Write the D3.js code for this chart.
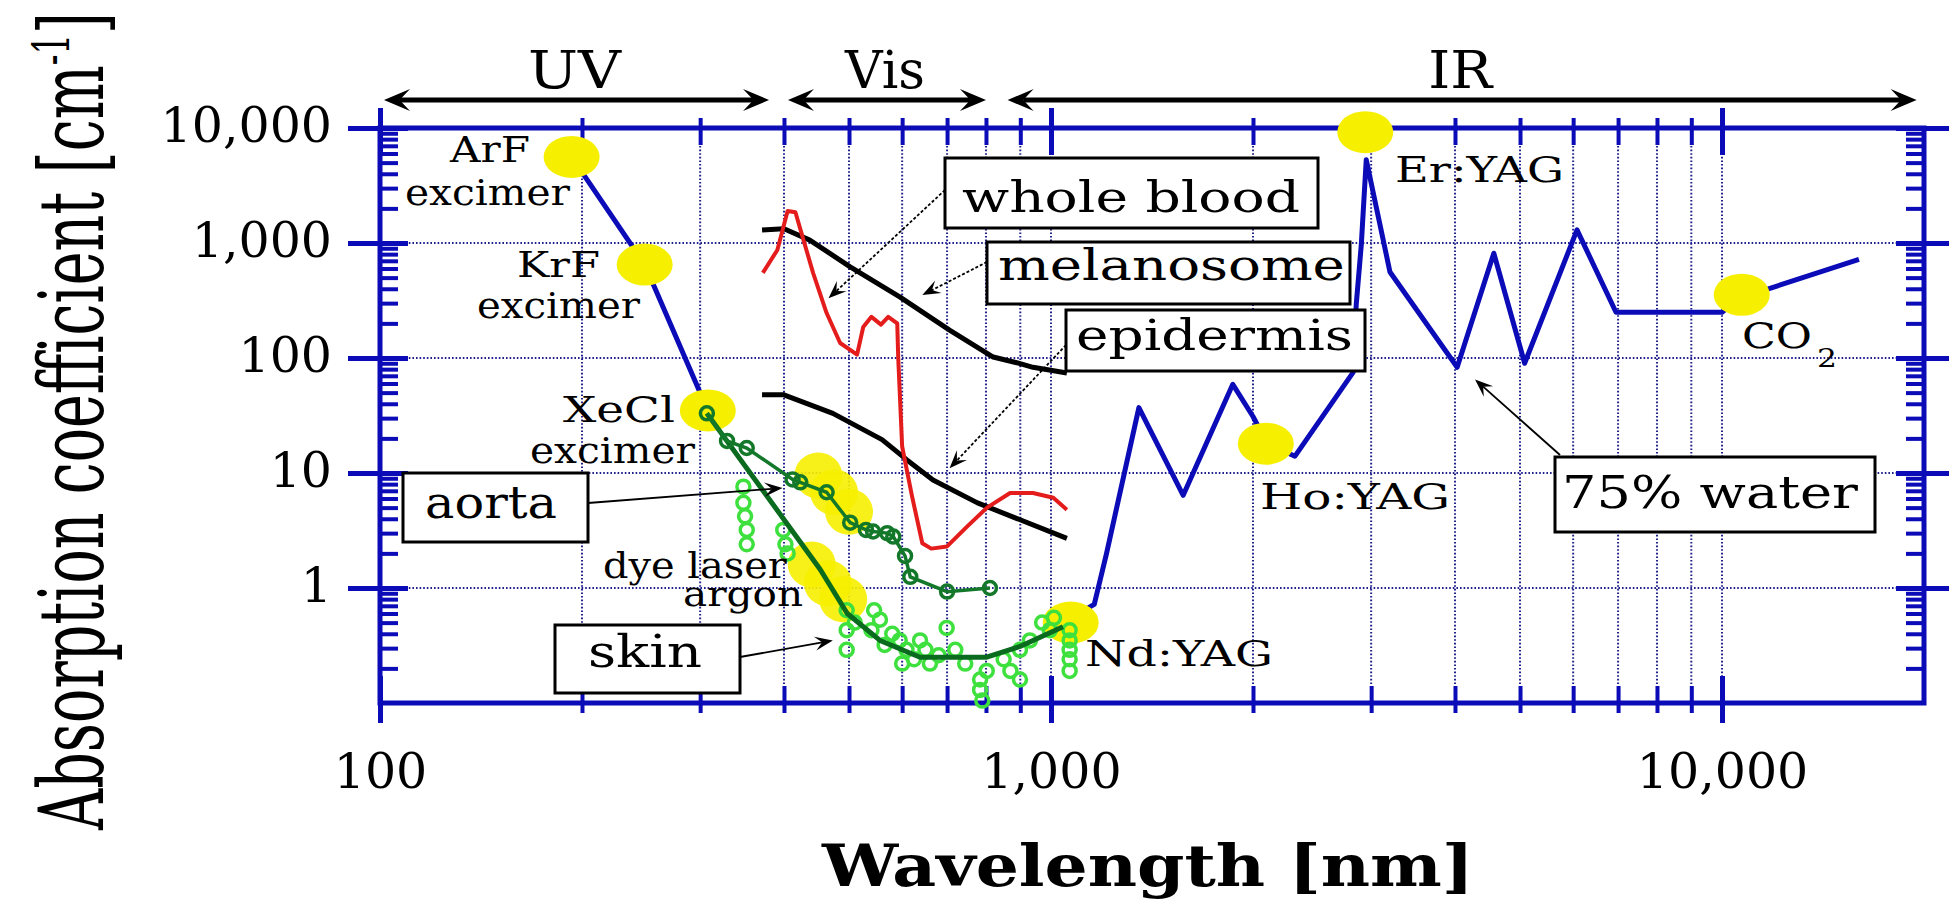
<!DOCTYPE html>
<html>
<head>
<meta charset="utf-8">
<script src="https://cdn.jsdelivr.net/npm/d3@7"></script>
<style>
  html, body { margin: 0; padding: 0; background: #fff; }
  svg { display: block; font-family: 'DejaVu Serif', 'Liberation Serif', serif; }
</style>
</head>
<body>
<div id="chart"></div>
<script>
// ---- data (wavelength nm, absorption coefficient cm^-1) ----
const bands = [
  { name: 'UV', from: 100, to: 380 },
  { name: 'Vis', from: 400, to: 800 },
  { name: 'IR', from: 850, to: 19500 }
];

const xMajor = [100, 1000, 10000];
const xMinor = [200, 300, 400, 500, 600, 700, 800, 900, 2000, 3000, 4000, 5000, 6000, 7000, 8000, 9000];
const yMajor = [1, 10, 100, 1000, 10000];
const yMinor = [0.1, 1, 10, 100, 1000].flatMap(d => [2, 3, 4, 5, 6, 7, 8, 9].map(k => d * k));
const xGrid = [200, 300, 400, 500, 600, 700, 800, 900, 1000, 2000, 3000, 4000, 5000, 6000, 7000, 8000, 9000, 10000];
const yGrid = [1, 10, 100, 1000];

const waterUV = [[193, 5600], [248, 650], [308, 35]];
const waterIR = [[1070, 0.55], [1160, 0.72], [1210, 2.0], [1352, 37], [1574, 6.4], [1866, 59],
  [2000, 31], [2100, 18], [2310, 14], [2820, 75], [2850, 290], [2900, 960], [2950, 5300],
  [3200, 560], [4030, 83], [4570, 815], [5080, 90], [6080, 1300], [6950, 250], [10000, 250],
  [10600, 330], [16000, 720]];

const wholeBlood = [[372, 550], [391, 870], [405, 1900], [416, 1850], [442, 550], [463, 246],
  [485, 135], [514, 107], [525, 186], [540, 228], [558, 195], [572, 228], [590, 200], [592, 100],
  [600, 17], [621, 6.2], [643, 2.45], [663, 2.2], [700, 2.3], [749, 3.4], [803, 5.0],
  [869, 6.7], [940, 6.7], [1008, 6.1], [1056, 4.8]];

const melanosome = [[371, 1300], [400, 1330], [437, 1060], [502, 620], [595, 340], [706, 175],
  [820, 102], [889, 91], [940, 83], [1056, 74]];

const epidermis = [[371, 48], [399, 48], [473, 33], [560, 19.5], [610, 13], [667, 8.7],
  [777, 5.5], [1056, 2.7]];

const aorta = [[307, 33], [329, 19], [352, 16.5], [412, 8.8], [423, 8.3], [463, 6.8], [502, 3.7],
  [530, 3.2], [543, 3.1], [570, 3.0], [582, 2.8], [606, 1.9], [617, 1.25], [700, 0.93], [811, 1.0]];

const skinLine = [[307, 33], [453, 1.45], [497, 0.6], [556, 0.35], [638, 0.25], [802, 0.25],
  [899, 0.31], [1042, 0.46]];

const skinPoints = [
  [348, 7.6], [348, 5.5], [350, 4.2], [352, 3.2], [352, 2.4],
  [399, 3.2], [402, 2.4], [405, 2.0],
  [496, 0.64], [496, 0.43], [496, 0.29], [510, 0.5],
  [545, 0.64], [556, 0.53], [540, 0.43], [565, 0.32],
  [580, 0.4], [595, 0.35], [609, 0.29], [625, 0.24], [638, 0.35], [650, 0.29], [600, 0.22], [660, 0.22],
  [699, 0.45], [720, 0.29], [745, 0.22], [680, 0.26],
  [784, 0.16], [784, 0.13], [790, 0.105], [802, 0.19],
  [850, 0.24], [870, 0.19], [899, 0.29], [899, 0.16], [930, 0.35],
  [970, 0.5], [996, 0.43], [1010, 0.55],
  [1066, 0.43], [1066, 0.35], [1066, 0.29], [1066, 0.24], [1066, 0.19]
];

const lasers = [
  { name: 'ArF', wl: 193, a: 5600 },
  { name: 'KrF', wl: 248, a: 650 },
  { name: 'XeCl', wl: 308, a: 35 },
  { name: 'Nd:YAG', wl: 1070, a: 0.5 },
  { name: 'Ho:YAG', wl: 2090, a: 18 },
  { name: 'Er:YAG', wl: 2940, a: 9200 },
  { name: 'CO2', wl: 10700, a: 355 }
];
const argonSpots = [[450, 9.5], [475, 6.8], [500, 4.6], [440, 1.6], [465, 1.1], [490, 0.8]];

// ---- layout ----
const width = 1949, height = 905;
const blue = '#0b0bb8';
const font = "'DejaVu Serif', 'Liberation Serif', serif";

const x = d3.scaleLog().domain([100, 20000]).range([380, 1924]);
const y = d3.scaleLog().domain([0.1, 10000]).range([703, 128]);

const svg = d3.select('#chart').append('svg')
  .attr('width', width)
  .attr('height', height);

// text helper: stretch text horizontally to a measured width
function addText(parent, px, py, str, size, w, anchor, weight, rot) {
  let t = parent.append('text')
    .attr('font-size', size)
    .attr('text-anchor', anchor || 'start')
    .attr('font-weight', weight || 'normal')
    .attr('fill', '#000')
    .text(str);
  let L = t.node().getComputedTextLength();
  let s = w ? w / L : 1;
  t.attr('transform', 'translate(' + px + ',' + py + ') rotate(' + (rot || 0) + ') scale(' + s + ',1)');
  return t;
}

function arrowHead(parent, tip, from, len, half) {
  let dx = tip[0] - from[0], dy = tip[1] - from[1];
  let d = Math.hypot(dx, dy);
  let ux = dx / d, uy = dy / d, nx = -uy, ny = ux;
  let bx = tip[0] - ux * len, by = tip[1] - uy * len;
  let mx = tip[0] - ux * len * 0.6, my = tip[1] - uy * len * 0.6;
  parent.append('path')
    .attr('d', 'M' + tip[0] + ',' + tip[1] +
      'L' + (bx + nx * half) + ',' + (by + ny * half) +
      'L' + mx + ',' + my +
      'L' + (bx - nx * half) + ',' + (by - ny * half) + 'Z')
    .attr('fill', '#000');
  return [mx, my];
}

// ---- grid ----
let grid = svg.append('g');
grid.selectAll('.vg').data(xGrid).enter().append('line')
  .attr('x1', d => x(d)).attr('x2', d => x(d))
  .attr('y1', y(10000)).attr('y2', y(0.1))
  .attr('stroke', '#20208c').attr('stroke-width', 2).attr('stroke-dasharray', '1.6,2');
grid.selectAll('.hg').data(yGrid).enter().append('line')
  .attr('x1', x(100)).attr('x2', x(20000))
  .attr('y1', d => y(d)).attr('y2', d => y(d))
  .attr('stroke', '#20208c').attr('stroke-width', 2).attr('stroke-dasharray', '1.6,2');

// ---- band arrows ----
let bandG = svg.append('g');
bands.forEach(b => {
  let x0 = x(b.from) + 4, x1 = x(b.to), yy = 100;
  let a = arrowHead(bandG, [x0, yy], [x1, yy], 26, 11);
  let c = arrowHead(bandG, [x1, yy], [x0, yy], 26, 11);
  bandG.append('line').attr('x1', a[0]).attr('x2', c[0]).attr('y1', yy).attr('y2', yy)
    .attr('stroke', '#000').attr('stroke-width', 5);
});
const bandLabelW = { UV: 93, Vis: 80, IR: 64 };
bands.forEach(b => {
  addText(bandG, x(Math.sqrt(b.from * b.to)), 88, b.name, 52, bandLabelW[b.name], 'middle');
});

// ---- frame and ticks ----
svg.append('rect')
  .attr('x', x(100)).attr('y', y(10000))
  .attr('width', x(20000) - x(100)).attr('height', y(0.1) - y(10000))
  .attr('fill', 'none').attr('stroke', blue).attr('stroke-width', 5);

function tickRow(axis, vals, size, tx, ty, sw) {
  let g = svg.append('g').attr('transform', 'translate(' + tx + ',' + ty + ')')
    .call(axis.tickValues(vals).tickSize(size).tickFormat(''));
  g.select('.domain').remove();
  g.selectAll('line').attr('stroke', blue).attr('stroke-width', sw);
  g.selectAll('text').remove();
}
// bottom
tickRow(d3.axisBottom(x), xMajor, 20, 0, y(0.1), 5);
tickRow(d3.axisTop(x), xMajor, 27, 0, y(0.1), 5);
tickRow(d3.axisBottom(x), xMinor, 10, 0, y(0.1), 4);
tickRow(d3.axisTop(x), xMinor, 17, 0, y(0.1), 4);
// top
tickRow(d3.axisTop(x), xMajor, 20, 0, y(10000), 5);
tickRow(d3.axisBottom(x), xMajor, 27, 0, y(10000), 5);
tickRow(d3.axisTop(x), xMinor, 10, 0, y(10000), 4);
tickRow(d3.axisBottom(x), xMinor, 17, 0, y(10000), 4);
// left
tickRow(d3.axisLeft(y), yMajor, 32, x(100), 0, 5);
tickRow(d3.axisRight(y), yMajor, 28, x(100), 0, 5);
tickRow(d3.axisRight(y), yMinor, 18, x(100), 0, 4);
// right
tickRow(d3.axisRight(y), yMajor, 34, x(20000), 0, 5);
tickRow(d3.axisLeft(y), yMajor, 28, x(20000), 0, 5);
tickRow(d3.axisLeft(y), yMinor, 18, x(20000), 0, 4);

// tick labels
let xl = svg.append('g').attr('transform', 'translate(0,' + y(0.1) + ')')
  .call(d3.axisBottom(x).tickValues(xMajor).tickSize(0).tickPadding(50).tickFormat(d3.format(',')));
xl.select('.domain').remove();
xl.selectAll('text').attr('font-family', font).attr('font-size', 49).attr('fill', '#000').attr('dy', '0.71em')
  .attr('y', 50);
let yl = svg.append('g').attr('transform', 'translate(' + x(100) + ',0)')
  .call(d3.axisLeft(y).tickValues(yMajor).tickSize(0).tickPadding(48).tickFormat(d3.format(',')));
yl.select('.domain').remove();
yl.selectAll('text').attr('font-family', font).attr('font-size', 49).attr('fill', '#000').attr('dy', '0.27em');

// ---- curves ----
const line = d3.line().x(d => x(d[0])).y(d => y(d[1]));
const curves = svg.append('g').attr('fill', 'none').attr('stroke-linejoin', 'round');

curves.append('path').datum(waterUV).attr('d', line).attr('stroke', blue).attr('stroke-width', 5);
curves.append('path').datum(waterIR).attr('d', line).attr('stroke', blue).attr('stroke-width', 5);
curves.append('path').datum(melanosome).attr('d', line).attr('stroke', '#000').attr('stroke-width', 5);
curves.append('path').datum(epidermis).attr('d', line).attr('stroke', '#000').attr('stroke-width', 5);
curves.append('path').datum(wholeBlood).attr('d', line).attr('stroke', '#e41c1c').attr('stroke-width', 4);

// yellow laser markers
let yel = svg.append('g').attr('fill', '#f6f000');
yel.selectAll('.laser').data(lasers).enter().append('ellipse')
  .attr('cx', d => x(d.wl)).attr('cy', d => y(d.a)).attr('rx', 28).attr('ry', 21);
yel.selectAll('.argon').data(argonSpots).enter().append('ellipse')
  .attr('cx', d => x(d[0])).attr('cy', d => y(d[1])).attr('rx', 24).attr('ry', 23)
  .attr('opacity', 0.9);

// skin data points and fit
let green = svg.append('g').attr('fill', 'none');
green.selectAll('.sp').data(skinPoints).enter().append('circle')
  .attr('cx', d => x(d[0])).attr('cy', d => y(d[1])).attr('r', 6.5)
  .attr('stroke', '#3ee03e').attr('stroke-width', 3.5);
green.append('path').datum(skinLine).attr('d', line)
  .attr('stroke', '#0a6a1e').attr('stroke-width', 5).attr('stroke-linejoin', 'round');
green.append('path').datum(aorta).attr('d', line)
  .attr('stroke', '#13782a').attr('stroke-width', 3.5);
green.selectAll('.ao').data(aorta).enter().append('circle')
  .attr('cx', d => x(d[0])).attr('cy', d => y(d[1])).attr('r', 6.5)
  .attr('fill', 'none').attr('stroke', '#13782a').attr('stroke-width', 3.5);

// ---- point labels ----
const pointNotes = [
  ['ArF', 450, 162, 80], ['excimer', 405, 205, 165],
  ['KrF', 517, 277, 83], ['excimer', 477, 318, 163],
  ['XeCl', 563, 422, 112], ['excimer', 530, 463, 165],
  ['dye laser', 603, 578, 184], ['argon', 683, 606, 120],
  ['Nd:YAG', 1085, 666, 188], ['Ho:YAG', 1260, 509, 190],
  ['Er:YAG', 1395, 182, 169], ['CO', 1742, 348, 70]
];
let notes = svg.append('g');
pointNotes.forEach(n => addText(notes, n[1], n[2], n[0], 36, n[3]));
addText(notes, 1817, 367, '2', 26, 20);

// ---- callouts ----
const callouts = [
  { text: 'whole blood', box: [945, 158, 1318, 228], tx: 962, ty: 212, w: 338, size: 42, from: [945, 190], tip: [466, 330], dash: true },
  { text: 'melanosome', box: [987, 242, 1350, 304], tx: 998, ty: 280, w: 347, size: 42, from: [987, 262], tip: [643, 353], dash: true },
  { text: 'epidermis', box: [1066, 310, 1365, 371], tx: 1076, ty: 350, w: 277, size: 42, from: [1066, 345], tip: [706, 11], dash: true },
  { text: 'aorta', box: [403, 473, 588, 542], tx: 425, ty: 518, w: 132, size: 44, from: [588, 503], tip: [398, 7.4], dash: false },
  { text: 'skin', box: [555, 625, 740, 693], tx: 588, ty: 667, w: 114, size: 44, from: [740, 657], tip: [473, 0.35], dash: false },
  { text: '75% water', box: [1555, 457, 1875, 532], tx: 1562, ty: 508, w: 296, size: 44, from: [1560, 455], tip: [4285, 65], dash: false }
];
let co = svg.append('g');
callouts.forEach(c => {
  let tip = [x(c.tip[0]), y(c.tip[1])];
  let m = arrowHead(co, tip, c.from, 18, 7);
  co.append('line').attr('x1', c.from[0]).attr('y1', c.from[1]).attr('x2', m[0]).attr('y2', m[1])
    .attr('stroke', '#000').attr('stroke-width', 1.8)
    .attr('stroke-dasharray', c.dash ? '3,2' : null);
});
callouts.forEach(c => {
  co.append('rect')
    .attr('x', c.box[0]).attr('y', c.box[1])
    .attr('width', c.box[2] - c.box[0]).attr('height', c.box[3] - c.box[1])
    .attr('fill', '#fff').attr('stroke', '#000').attr('stroke-width', 3);
  addText(co, c.tx, c.ty, c.text, c.size, c.w);
});

// ---- axis titles ----
addText(svg, 1148, 886, 'Wavelength [nm]', 58, 652, 'middle', 'bold');

let yt = svg.append('text')
  .attr('font-size', 90).attr('text-anchor', 'middle').attr('fill', '#000');
yt.append('tspan').text('Absorption coefficient [cm');
yt.append('tspan').attr('font-size', 50).attr('dy', -34).text('-1');
yt.append('tspan').attr('dy', 34).text(']');
let L = yt.node().getComputedTextLength();
yt.attr('transform', 'translate(103,421) rotate(-90) scale(' + (818 / L) + ',1)');
</script>
</body>
</html>
